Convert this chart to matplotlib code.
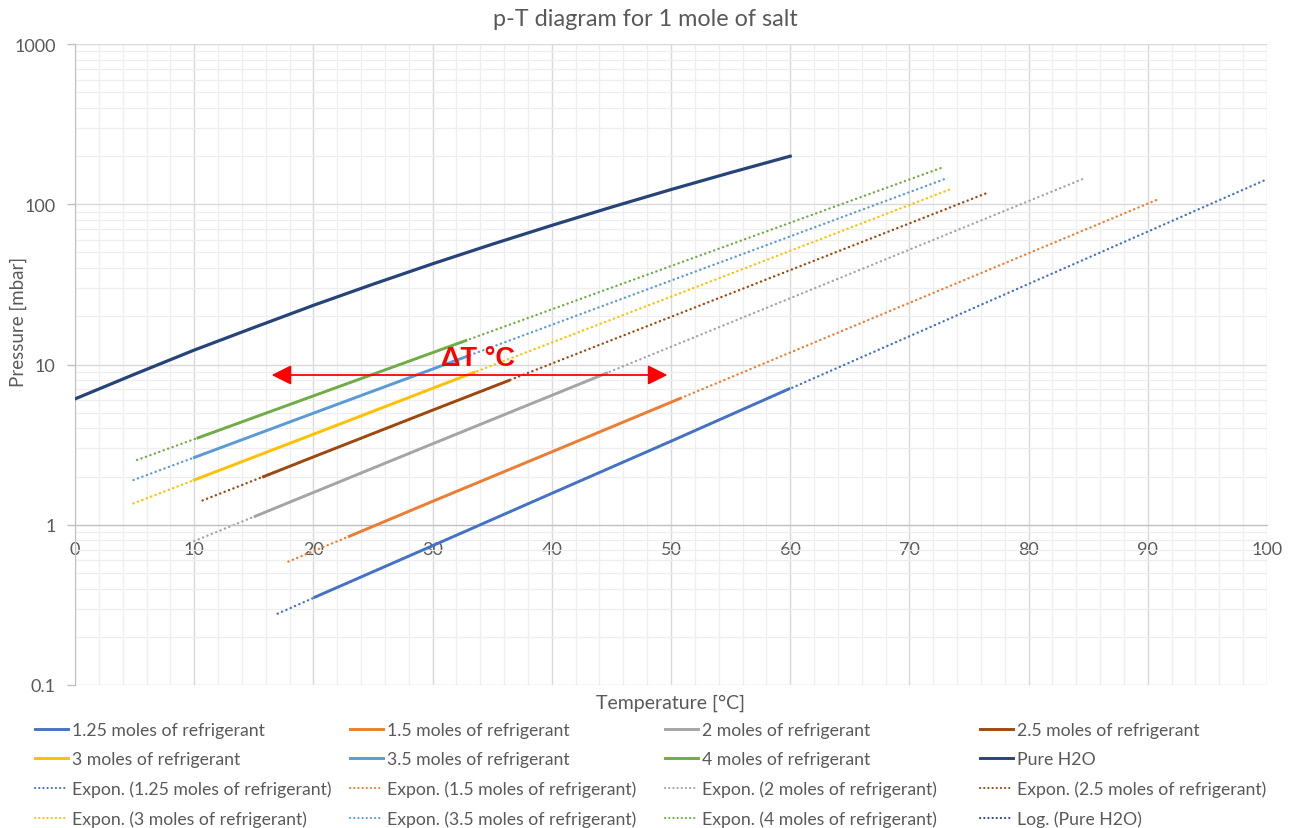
import numpy as np
import matplotlib
matplotlib.use("Agg")
import matplotlib.pyplot as plt
from matplotlib.lines import Line2D
from matplotlib.ticker import MultipleLocator, LogLocator, FixedLocator, FuncFormatter, NullFormatter

# ---------------- data ----------------
series_names = ["1.25 moles of refrigerant", "1.5 moles of refrigerant", "2 moles of refrigerant",
                "2.5 moles of refrigerant", "3 moles of refrigerant", "3.5 moles of refrigerant",
                "4 moles of refrigerant"]
series_colors = ["#4472C4", "#ED7D31", "#A5A5A5", "#9E480E", "#FFC000", "#5B9BD5", "#70AD47"]

T_125 = [20, 30, 40, 50, 60]
p_125 = [0.35, 0.74, 1.57, 3.32, 7.1]
T_150 = [22.9, 30, 40, 50.9]
p_150 = [0.84, 1.40, 2.85, 6.2]
T_200 = [15, 20, 30, 40, 44.7]
p_200 = [1.12, 1.59, 3.2, 6.42, 8.9]
T_250 = [15.7, 20, 30, 36.5]
p_250 = [1.98, 2.65, 5.19, 8.0]
T_300 = [9.9, 20, 30, 33.6]
p_300 = [1.89, 3.67, 7.10, 9.0]
T_350 = [9.9, 20, 33.1]
p_350 = [2.61, 4.97, 11.4]
T_400 = [10.2, 20, 32.9]
p_400 = [3.46, 6.37, 14.2]

trend_backward = [3, 5, 5, 5, 5, 5, 5]
trend_forward = [40, 40, 40, 40, 40, 40, 40]

T_h2o = [0, 5, 10, 15, 20, 25, 30, 35, 40, 45, 50, 55, 60]
p_h2o = [6.1, 8.7, 12.3, 17.0, 23.4, 31.7, 42.5, 56.3, 73.8, 95.9, 123.5, 157.6, 199.5]
h2o_color = "#264478"

x_ticks = [0, 10, 20, 30, 40, 50, 60, 70, 80, 90, 100]
y_ticks = [0.1, 1, 10, 100, 1000]

arrow_T = [16.5, 49.7]
arrow_p = 8.6
label_T, label_p = 30.7, 10.0

# ---------------- figure ----------------
W, H = 1293, 829
fig = plt.figure(figsize=(W / 100, H / 100), dpi=100)
plt.rcParams['font.family'] = ['Lato', 'DejaVu Sans']
ax = fig.add_axes([75 / W, 1 - 686 / H, (1267 - 75) / W, (686 - 45) / H])

ax.set_yscale('log')
ax.set_xlim(0, 100)
ax.set_ylim(0.1, 1000)

ax.xaxis.set_major_locator(FixedLocator(x_ticks))
ax.xaxis.set_minor_locator(MultipleLocator(2))
ax.yaxis.set_major_locator(FixedLocator(y_ticks))
ax.yaxis.set_minor_locator(LogLocator(base=10, subs=np.arange(2, 10)))
ax.yaxis.set_minor_formatter(NullFormatter())
ax.yaxis.set_major_formatter(FuncFormatter(lambda v, pos: f"{v:g}"))

ax.grid(which='major', color='#D9D9D9', lw=1.0)
ax.grid(which='minor', color='#EEEEEE', lw=0.9)
ax.set_axisbelow(True)

for s in ['top', 'right']:
    ax.spines[s].set_visible(False)
ax.spines['left'].set_color('#BFBFBF')
ax.spines['bottom'].set_color('#BFBFBF')
ax.spines['bottom'].set_position(('data', 1))

ax.tick_params(axis='x', which='both', length=0, pad=12, labelsize=13, labelcolor='#595959')
ax.tick_params(axis='y', which='major', length=6, width=1, color='#BFBFBF', pad=8,
               labelsize=13, labelcolor='#595959')
ax.tick_params(axis='y', which='minor', length=0)

data_T = [T_125, T_150, T_200, T_250, T_300, T_350, T_400]
data_p = [p_125, p_150, p_200, p_250, p_300, p_350, p_400]

dot_style = (0, (0.1, 1.9))
solid_handles = []
trend_handles = []
for i in range(len(series_names)):
    T = np.array(data_T[i], dtype=float)
    p = np.array(data_p[i], dtype=float)
    c = series_colors[i]
    # exponential trendline (least squares on ln p), with backward/forward forecast
    b, a = np.polyfit(T, np.log(p), 1)
    tt = np.linspace(T.min() - trend_backward[i], T.max() + trend_forward[i], 200)
    ax.plot(tt, np.exp(a + b * tt), color=c, lw=1.7, linestyle=dot_style,
            dash_capstyle='round', zorder=2)
    ax.plot(T, p, color=c, lw=2.1, solid_capstyle='butt', zorder=3)
    solid_handles.append(Line2D([], [], color=c, lw=2.1))
    trend_handles.append(Line2D([], [], color=c, lw=1.5, linestyle=dot_style, dash_capstyle='round'))

ax.plot(T_h2o, p_h2o, color=h2o_color, lw=2.3, zorder=3)
h2o_handle = Line2D([], [], color=h2o_color, lw=2.1)
h2o_log_handle = Line2D([], [], color=h2o_color, lw=1.5, linestyle=dot_style, dash_capstyle='round')

# Delta T annotation
ax.annotate('', xy=(arrow_T[0], arrow_p), xytext=(arrow_T[1], arrow_p),
            arrowprops=dict(arrowstyle='<|-|>,head_length=0.6,head_width=0.3',
                            color='#FF0000', lw=1.3, shrinkA=0, shrinkB=0, mutation_scale=20),
            zorder=5)
ax.text(label_T, label_p, 'ΔT °C', color='#FF0000', fontsize=19.5, fontweight='bold',
        family=['Liberation Sans', 'DejaVu Sans'], ha='left', va='baseline', zorder=6)

# titles
fig.text(645 / W, 1 - 19 / H, 'p-T diagram for 1 mole of salt', ha='center', va='center',
         fontsize=16.8, color='#595959')
fig.text(671 / W, 1 - 703 / H, 'Temperature [°C]', ha='center', va='center',
         fontsize=14, color='#595959')
fig.text(18 / W, 1 - 322 / H, 'Pressure [mbar]', ha='center', va='center', rotation=90,
         fontsize=13.5, color='#595959')

# legend: 4 rows x 4 columns (row-major as in Excel)
labels_all = (series_names[:4] + series_names[4:] + ['Pure H2O']
              + [f"Expon. ({n})" for n in series_names[:4]]
              + [f"Expon. ({n})" for n in series_names[4:]] + ['Log. (Pure H2O)'])
handles_all = (solid_handles[:4] + solid_handles[4:] + [h2o_handle]
               + trend_handles[:4] + trend_handles[4:] + [h2o_log_handle])
col_x = [35, 350, 665, 980]
fs_leg = 12.7
for c in range(4):
    hs = handles_all[c::4]
    ls = labels_all[c::4]
    fig.legend(hs, ls, loc='upper left', bbox_to_anchor=(col_x[c] / W, 1 - 723 / H),
               frameon=False, prop={'size': fs_leg}, labelcolor='#595959',
               handlelength=33 / (fs_leg * 1.389), handletextpad=4 / (fs_leg * 1.389),
               labelspacing=0.75, borderaxespad=0, borderpad=0)

fig.savefig('out.png', dpi=100)
